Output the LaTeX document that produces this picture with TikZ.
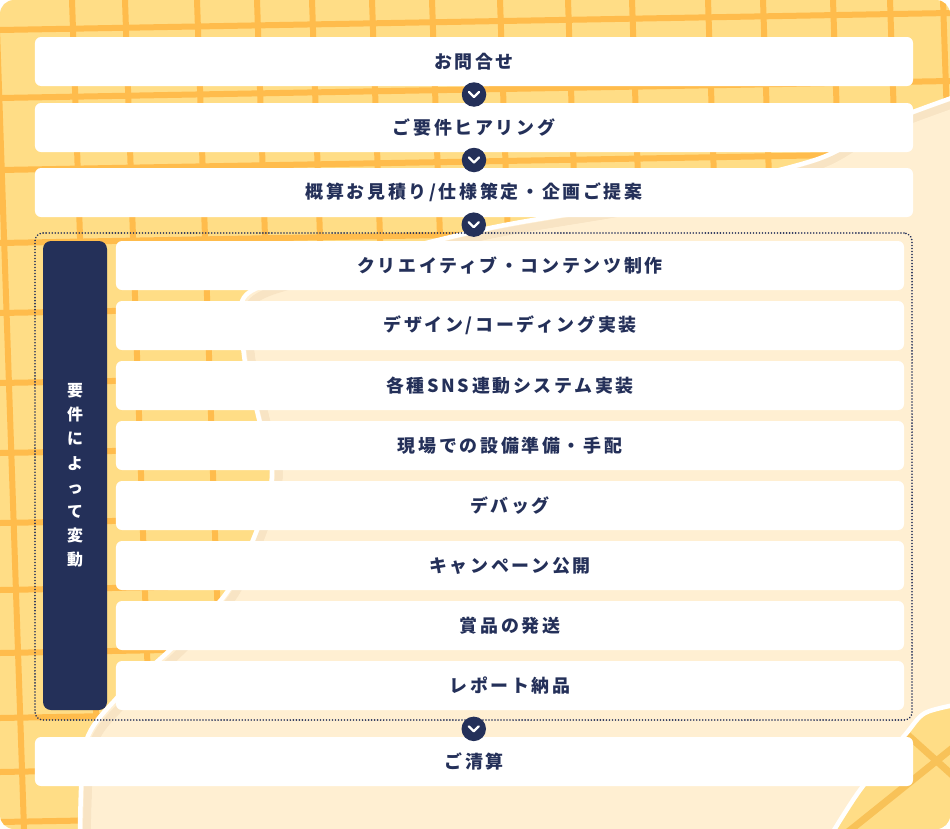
\documentclass[tikz,border=0pt]{standalone}
\usepackage{fontspec}
\setmainfont{Noto Sans CJK JP}[LetterSpace=15]
\usetikzlibrary{calc}
\definecolor{navy}{HTML}{243059}
\definecolor{yel}{HTML}{FFDD86}
\definecolor{grd}{HTML}{FFBC4C}
\definecolor{grd2}{HTML}{F8C258}
\definecolor{cream}{HTML}{FFEFD2}
\definecolor{tan}{HTML}{F8E4C4}
\tikzset{
  stepbox/.style={fill=white, rounded corners=6bp, minimum width=878bp, minimum height=49bp,
    inner sep=0pt, text=navy, font=\bfseries\fontsize{18}{20}\selectfont},
  rowbox/.style={stepbox, minimum width=788bp},
  chevcircle/.style={circle, fill=navy, minimum size=24.5bp, inner sep=0pt},
  chevline/.style={white, line width=2.3bp, line cap=round, line join=round},
  gridline/.style={grd, line width=6bp},
  tornedge/.style={white, line width=4.5bp, line join=round}
}
\begin{document}
\begin{tikzpicture}[x=1bp,y=-1bp]
\useasboundingbox (0,0) rectangle (950,829);
\fill[white] (0,0) rectangle (950,829);
\begin{scope}
  \clip[rounded corners=14bp] (0,0) rectangle (950,829);
  \fill[yel] (0,0) rectangle (950,829);
  % grid
  \foreach \x in {-4,72,125,197,257,312,372,432,500,568,632,708,763,833,890,943}
    \draw[gridline] (\x,0) -- (\x+28,829);
  \foreach \y in {30,98,170,243,313,383,453,523,590,653,718,772,822}
    \draw[gridline] (0,\y) -- (950,\y-17);
  % cream torn paper
  \fill[cream] plot[smooth, tension=0.5] coordinates {(960,95) (880,125) (815,160) (650,200) (490,228) (330,268) (246,295) (244,355) (258,415) (272,475) (255,535) (225,595) (170,650) (115,700) (85,745) (80,840)}
    -- (828,840) -- plot[smooth, tension=0.5] coordinates {(828,840) (860,790) (905,735) (925,713) (960,704)} -- cycle;
  \draw[tan, line width=8bp] plot[smooth, tension=0.5] coordinates {(960,102) (880,132) (815,167) (650,207) (490,235) (330,275) (253,301) (251,355) (265,415) (279,475) (262,535) (232,598) (177,655) (122,705) (92,748) (87,840)};
  \fill[cream] plot[smooth, tension=0.5] coordinates {(960,106) (880,136) (815,171) (650,211) (490,239) (330,279) (257,305) (255,355) (269,415) (283,475) (266,535) (236,600) (181,658) (126,708) (96,750) (91,840)}
    -- (828,840) -- (860,790) -- (905,735) -- (925,713) -- (960,704) -- cycle;
  \draw[tornedge] plot[smooth, tension=0.5] coordinates {(960,95) (880,125) (815,160) (650,200) (490,228) (330,268) (246,295) (244,355) (258,415) (272,475) (255,535) (225,595) (170,650) (115,700) (85,745) (80,840)};
  % bottom-right patch
  \begin{scope}
    \clip plot[smooth, tension=0.5] coordinates {(828,840) (860,790) (905,735) (925,713) (960,704)} -- (960,840) -- cycle;
    \fill[yel] (800,690) rectangle (960,840);
    \draw[grd2, line width=7bp] (900,728) -- (960,782);
    \draw[grd2, line width=7bp] (838,840) -- (960,742);
  \end{scope}
  \draw[tornedge] plot[smooth, tension=0.5] coordinates {(828,840) (860,790) (905,735) (925,713) (960,704)};
\end{scope}
% main steps
\node[stepbox] (s1) at (474,61.5) {お問合せ};
\node[stepbox] (s2) at (474,127.5) {ご要件ヒアリング};
\node[stepbox] (s3) at (474,192.5) {概算お見積り/仕様策定・企画ご提案};
\node[draw=navy, line width=1.8bp, dash pattern=on 0.01bp off 3bp, line cap=round,
  rounded corners=8bp, minimum width=877bp, minimum height=487bp, inner sep=0pt] (frame) at (473.5,476.5) {};
\node[fill=navy, rounded corners=8bp, minimum width=64bp, minimum height=469bp, inner sep=0pt,
  text=white, align=center, font=\bfseries\fontsize{16}{24.3}\selectfont] (lab) at (75,475.5)
  {要\\件\\に\\よ\\っ\\て\\変\\動};
\node[rowbox] (r1) at (510,265.5) {クリエイティブ・コンテンツ制作};
\node[rowbox] (r2) at (510,325.5) {デザイン/コーディング実装};
\node[rowbox] (r3) at (510,385.5) {各種SNS連動システム実装};
\node[rowbox] (r4) at (510,445.5) {現場での設備準備・手配};
\node[rowbox] (r5) at (510,505.5) {デバッグ};
\node[rowbox] (r6) at (510,565.5) {キャンペーン公開};
\node[rowbox] (r7) at (510,625.5) {賞品の発送};
\node[rowbox] (r8) at (510,685.5) {レポート納品};
\node[stepbox] (s4) at (474,761.5) {ご清算};
% chevron connectors
\node[chevcircle] (c1) at ($(s1.south)!0.5!(s2.north)$) {};
\node[chevcircle] (c2) at ($(s2.south)!0.5!(s3.north)$) {};
\node[chevcircle] (c3) at ($(s3.south)!0.5!(frame.north)$) {};
\node[chevcircle] (c4) at ($(frame.south)!0.5!(s4.north)$) {};
\foreach \c in {c1,c2,c3,c4}
  \draw[chevline] ([shift={(-5,-2.5)}]\c.center) -- ([shift={(0,2.5)}]\c.center) -- ([shift={(5,-2.5)}]\c.center);
\end{tikzpicture}
\end{document}
